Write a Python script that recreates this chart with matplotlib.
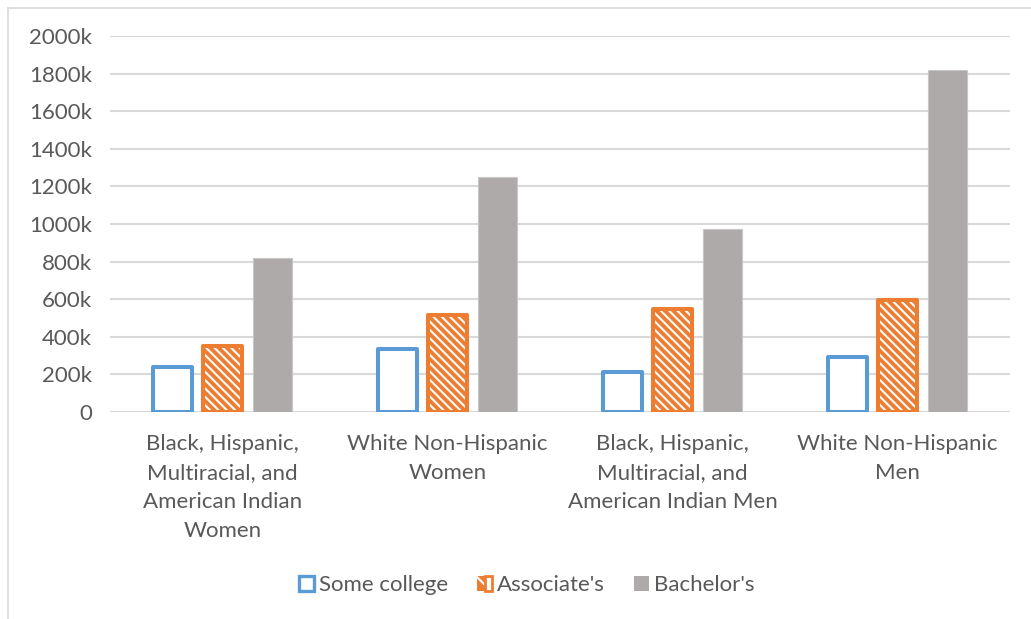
import matplotlib
matplotlib.use("Agg")
import matplotlib.pyplot as plt
from matplotlib.patches import Patch
from matplotlib.lines import Line2D
from matplotlib.ticker import FuncFormatter
from matplotlib.legend_handler import HandlerTuple
import numpy as np

# Data (thousands of people)
categories = [
    "Black, Hispanic,\nMultiracial, and\nAmerican Indian\nWomen",
    "White Non-Hispanic\nWomen",
    "Black, Hispanic,\nMultiracial, and\nAmerican Indian Men",
    "White Non-Hispanic\nMen",
]
series_names = ["Some college", "Associate's", "Bachelor's"]
some_college = [240, 335, 213, 295]
associates = [350, 515, 550, 598]
bachelors = [818, 1248, 975, 1820]
y_ticks = [0, 200, 400, 600, 800, 1000, 1200, 1400, 1600, 1800, 2000]

BLUE = "#5B9BD5"
ORANGE = "#ED7D31"
GRAY = "#AEAAAA"
TEXT = "#595959"
GRID = "#D9D9D9"
FONT = "Lato"
FS = 16

plt.rcParams["font.family"] = [FONT, "DejaVu Sans"]
plt.rcParams["hatch.linewidth"] = 1.5

fig = plt.figure(figsize=(10.31, 6.19), dpi=100)
ax = fig.add_axes([110 / 1031, 1 - 412 / 619, 900 / 1031, (412 - 36) / 619])

x = np.arange(len(categories))
w = 0.175
off = 0.222

# Some college: outlined bars
ax.bar(x - off, some_college, w, facecolor="white", edgecolor=BLUE,
       linewidth=2.9, joinstyle="round", zorder=3)
# Associate's: orange with white diagonal stripes, plus orange outline
ax.bar(x, associates, w, facecolor=ORANGE, edgecolor="white", hatch="\\\\\\\\",
       linewidth=0, zorder=3)
ax.bar(x, associates, w, facecolor="none", edgecolor=ORANGE,
       linewidth=2.9, joinstyle="round", zorder=4)
# Bachelor's: solid gray
ax.bar(x + off, bachelors, w, facecolor=GRAY, edgecolor="#C8C6C6",
       linewidth=0.8, zorder=3)

ax.set_xlim(-0.5, len(categories) - 0.5)
ax.set_ylim(0, 2000)
ax.set_yticks(y_ticks)
ax.yaxis.set_major_formatter(FuncFormatter(lambda v, p: "0" if v == 0 else f"{int(v)}k"))
ax.grid(axis="y", color=GRID, linewidth=1.5, zorder=0)
ax.set_axisbelow(True)
for s in ax.spines.values():
    s.set_visible(False)
ax.tick_params(axis="y", length=0, pad=13, labelsize=FS, labelcolor=TEXT)
ax.tick_params(axis="x", length=0, pad=16, labelsize=FS, labelcolor=TEXT)
ax.set_xticks(x)
ax.set_xticklabels(categories, linespacing=1.55)

# Legend
h_some = Patch(facecolor="white", edgecolor=BLUE, linewidth=2.4)
h_assoc = (Patch(facecolor=ORANGE, edgecolor="white", hatch="\\\\", linewidth=0),
           Patch(facecolor="none", edgecolor=ORANGE, linewidth=2.0))
h_bach = Patch(facecolor=GRAY, edgecolor=GRAY, linewidth=0)
fig.legend([h_some, h_assoc, h_bach], series_names,
           handler_map={tuple: HandlerTuple(ndivide=None, pad=0)},
           loc="center", bbox_to_anchor=(527 / 1031, 1 - 585 / 619),
           ncol=3, frameon=False, fontsize=FS, labelcolor=TEXT,
           handlelength=0.65, handleheight=0.65, handletextpad=0.25,
           columnspacing=1.3, borderpad=0)

# Chart border (top and left edges)
fig.add_artist(Line2D([8 / 1031, 1], [1 - 8 / 619, 1 - 8 / 619],
                      transform=fig.transFigure, color=GRID, linewidth=1.2))
fig.add_artist(Line2D([8 / 1031, 8 / 1031], [0, 1 - 8 / 619],
                      transform=fig.transFigure, color=GRID, linewidth=1.2))

fig.savefig("out.png", dpi=100, facecolor="white")
